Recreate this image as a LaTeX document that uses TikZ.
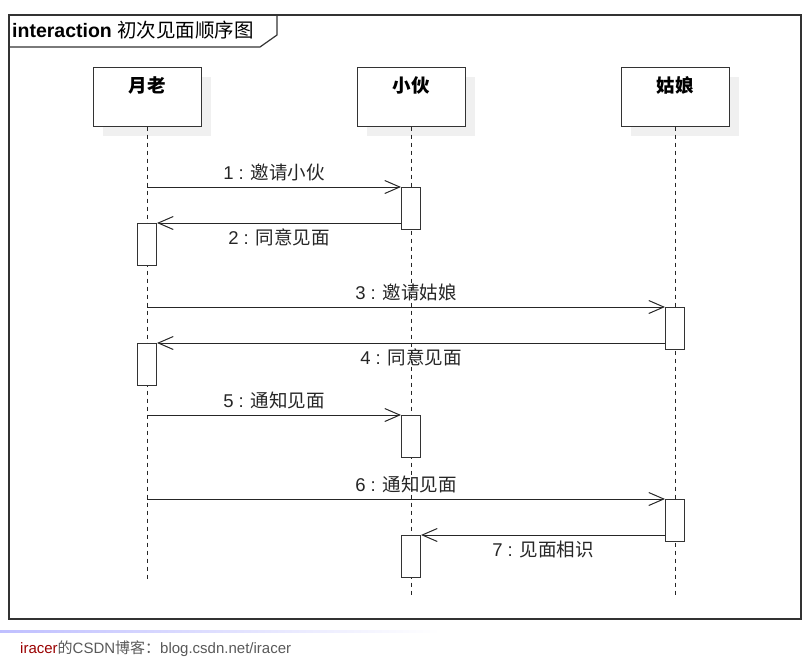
\documentclass[tikz,border=0pt]{standalone}
\usepackage{fontspec}
\setmainfont{Liberation Sans}
\newfontfamily\cjk{Noto Sans CJK SC}
\usetikzlibrary{arrows.meta,shadows,calc}

\tikzset{
  head/.style={draw=black!80, line width=1pt, fill=white, minimum width=108pt,
    inner sep=0pt, text height=25pt, text depth=34pt, font=\cjk\bfseries\fontsize{18.5}{18.5}\selectfont,
    drop shadow={shadow xshift=10pt, shadow yshift=-10pt, fill=black!6, opacity=1}},
  act/.style={draw=black!80, line width=1pt, fill=white, minimum width=19pt, minimum height=42pt, inner sep=0pt},
  life/.style={draw=black!85, line width=1pt, dash pattern=on 4pt off 4pt},
  msg/.style={draw=black!85, line width=1pt, -{Straight Barb[length=15pt,width=13pt,line width=1pt]}},
  lbl/.style={text=black!85, font=\fontsize{18.5}{18.5}\selectfont}
}

\begin{document}
\begin{tikzpicture}[x=1pt,y=-1pt]
    \useasboundingbox (0,0) rectangle (811,667);
    % frame
    \path[draw, black!80, line width=1.2pt](9,15)rectangle(801,619);
    \path[draw, black!80, line width=1.2pt](9,47)to(260,47)to(277,35)to(277,15);
    \node[anchor=base west, font=\fontsize{19.5}{19.5}\selectfont, inner sep=0pt](title)at(12,37)
      {\textbf{interaction} {\cjk 初次见面顺序图}};
    % lifeline heads
    \node[head](yl)at(147,96.5){月老};
    \node[head](xh)at(411,96.5){小伙};
    \node[head](gn)at(675,96.5){姑娘};
    \coordinate(ylend)at(147,582);
    \coordinate(xhend)at(411,598);
    \coordinate(gnend)at(675,598);
    \path[life](yl.south)to(ylend);
    \path[life](xh.south)to(xhend);
    \path[life](gn.south)to(gnend);
    % activations
    \node[act, anchor=north](a1)at(411,187){};
    \node[act, anchor=north](a2)at(147,223){};
    \node[act, anchor=north](a3)at(675,307){};
    \node[act, anchor=north](a4)at(147,343){};
    \node[act, anchor=north](a5)at(411,415){};
    \node[act, anchor=north](a6)at(675,499){};
    \node[act, anchor=north](a7)at(411,535){};
    % messages
    \path[msg](yl |- a1.north)to node[lbl, midway, above=2pt]{1 : {\cjk 邀请小伙}}(a1.north west);
    \path[msg](a1.west |- a2.north)to node[lbl, midway, below=2pt]{2 : {\cjk 同意见面}}(a2.north east);
    \path[msg](yl |- a3.north)to node[lbl, midway, above=2pt]{3 : {\cjk 邀请姑娘}}(a3.north west);
    \path[msg](a3.west |- a4.north)to node[lbl, midway, below=2pt]{4 : {\cjk 同意见面}}(a4.north east);
    \path[msg](yl |- a5.north)to node[lbl, midway, above=2pt]{5 : {\cjk 通知见面}}(a5.north west);
    \path[msg](yl |- a6.north)to node[lbl, midway, above=2pt]{6 : {\cjk 通知见面}}(a6.north west);
    \path[msg](a6.west |- a7.north)to node[lbl, midway, below=2pt]{7 : {\cjk 见面相识}}(a7.north east);
    % footer
    \shade[left color=blue!25!white, right color=white](0,630)rectangle(440,632);
    \node[anchor=base west, inner sep=0pt, font=\fontsize{15}{15}\selectfont, text=black!65](foot)at(20,653)
      {\textcolor{red!60!black}{iracer}{\cjk 的}CSDN{\cjk 博客：}blog.csdn.net/iracer};
\end{tikzpicture}
\end{document}
